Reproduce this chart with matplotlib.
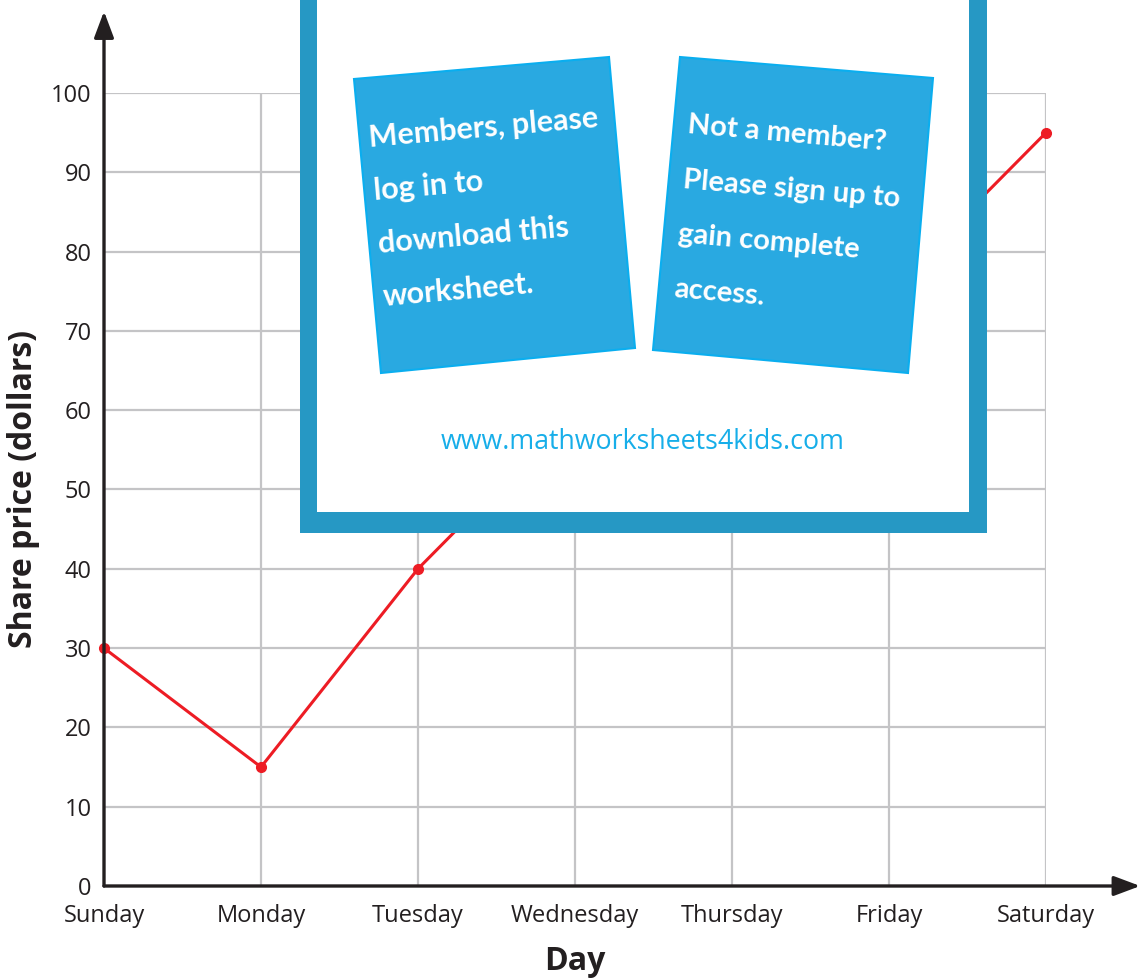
import matplotlib
matplotlib.use("Agg")
import matplotlib.pyplot as plt
from matplotlib.patches import Rectangle, Polygon

days = ["Sunday", "Monday", "Tuesday", "Wednesday", "Thursday", "Friday", "Saturday"]
prices = [30, 15, 40, 60, 65, 75, 95]
y_ticks = [0, 10, 20, 30, 40, 50, 60, 70, 80, 90, 100]

plt.rcParams["font.family"] = ["Open Sans", "DejaVu Sans"]
ink = "#231f20"

fig = plt.figure(figsize=(11.4, 9.8), dpi=100)
ax = fig.add_axes([104 / 1140, 94 / 980, 942 / 1140, 793 / 980])

x = list(range(len(days)))
ax.plot(x, prices, color="#ed1c24", linewidth=2.2, marker="o", markersize=7,
        zorder=4, clip_on=False)

ax.set_xlim(0, len(days) - 1)
ax.set_ylim(0, 100)
ax.set_xticks(x)
ax.set_xticklabels(days, fontsize=17, color=ink)
ax.set_yticks(y_ticks)
ax.set_yticklabels([str(v) for v in y_ticks], fontsize=17, color=ink)
ax.tick_params(axis="both", length=0)
ax.tick_params(axis="x", pad=13)
ax.tick_params(axis="y", pad=9)
ax.grid(True, color="#c4c4c6", linewidth=1.6)
ax.set_axisbelow(True)
for s in ax.spines.values():
    s.set_visible(False)

ax.set_xlabel("Day", fontsize=23, fontweight="bold", color=ink, labelpad=12)
ax.set_ylabel("Share price (dollars)", fontsize=23, fontweight="bold", color=ink, labelpad=8)

# axis arrows
ax.annotate("", xy=(6.6, 0), xytext=(0, 0), annotation_clip=False,
            arrowprops=dict(arrowstyle="-|>,head_length=1.6,head_width=0.6",
                            color=ink, lw=2.4, shrinkA=0, shrinkB=0), zorder=5)
ax.annotate("", xy=(0, 110.3), xytext=(0, 0), annotation_clip=False,
            arrowprops=dict(arrowstyle="-|>,head_length=1.6,head_width=0.6",
                            color=ink, lw=2.4, shrinkA=0, shrinkB=0), zorder=5)

# overlay panel (pixel coordinates)
ov = fig.add_axes([0, 0, 1, 1], zorder=10)
ov.set_xlim(0, 1140)
ov.set_ylim(980, 0)
ov.axis("off")
ov.patch.set_alpha(0)

ov.add_patch(Rectangle((300, -30), 687, 563, facecolor="#2698c4", edgecolor="none"))
ov.add_patch(Rectangle((317, -30), 652, 542, facecolor="white", edgecolor="none"))

card_fill = "#29a9e1"
card_edge = "#0aaeef"
ov.add_patch(Polygon([(354, 79), (609, 57), (635, 348), (381, 373)], closed=True,
                     facecolor=card_fill, edgecolor=card_edge, linewidth=1.5))
ov.add_patch(Polygon([(680, 57), (933, 78), (908, 373), (653, 350)], closed=True,
                     facecolor=card_fill, edgecolor=card_edge, linewidth=1.5))

left_lines = ["Members, please", "log in to", "download this", "worksheet."]
right_lines = ["Not a member?", "Please sign up to", "gain complete", "access."]

for i, line in enumerate(left_lines):
    ov.text(370 + 4.6 * i, 147 + 53 * i, line, rotation=5, rotation_mode="anchor",
            ha="left", va="baseline", color="white", fontsize=22, fontweight="bold",
            family=["Lato", "DejaVu Sans"])
for i, line in enumerate(right_lines):
    ov.text(687 - 4.7 * i, 133 + 54.7 * i, line, rotation=-5, rotation_mode="anchor",
            ha="left", va="baseline", color="white", fontsize=21, fontweight="bold",
            family=["Lato", "DejaVu Sans"])

ov.text(643, 442, "www.mathworksheets4kids.com", ha="center", va="center",
        color="#17aee9", fontsize=19.3)

fig.savefig("out.png", dpi=100)
